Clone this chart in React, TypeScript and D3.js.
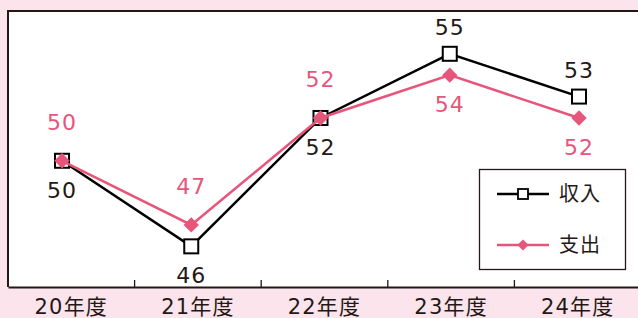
import React, { useEffect, useRef } from 'react';
import * as d3 from 'd3';

const categories = ['20年度', '21年度', '22年度', '23年度', '24年度'];
const incomeValues = [50, 46, 52, 55, 53];
const expenseValues = [50, 47, 52, 54, 52];
const incomeLabelPos = ['below', 'below', 'below', 'above', 'above'];
const expenseLabelPos = ['above', 'above', 'above', 'below', 'below'];
const seriesNames = ['収入', '支出'];

const PINK = '#e8557b';
const INK = '#231815';
const FONT = '"DejaVu Sans", "Noto Sans CJK JP", sans-serif';

const App = () => {
  const ref = useRef<SVGSVGElement | null>(null);

  useEffect(() => {
    document.body.style.margin = '0';
    const width = 638;
    const height = 318;
    const svg = d3.select(ref.current);
    svg.selectAll('*').remove();

    svg.append('rect').attr('width', width).attr('height', height).attr('fill', '#fbe4eb');

    const left = 8;
    const top = 11;
    const bottom = 287;

    // plot area
    svg.append('rect')
      .attr('x', left).attr('y', top)
      .attr('width', width - left + 10).attr('height', bottom - top)
      .attr('fill', '#fff');

    const xBand = d3.scaleBand().domain(categories).range([left, 641]);
    const x = d3.scalePoint().domain(categories).range([62, 579]);
    const y = d3.scaleLinear().domain([44.1, 57]).range([bottom, top]);

    // frame (left, top)
    svg.append('path')
      .attr('d', `M${left},${bottom}V${top}H${width + 2}`)
      .attr('fill', 'none').attr('stroke', INK).attr('stroke-width', 2);

    const xAxis = svg.append('g').attr('transform', `translate(0,${bottom})`)
      .call(d3.axisBottom(xBand).tickSize(0).tickPadding(12));
    xAxis.select('.domain').attr('stroke', INK).attr('stroke-width', 2);
    xAxis.selectAll('text')
      .attr('font-family', FONT).attr('font-size', 21)
      .attr('letter-spacing', 1.2).attr('fill', INK);

    // band separators pointing up
    svg.append('g').selectAll('line')
      .data(categories.slice(1))
      .join('line')
      .attr('x1', d => xBand(d)!).attr('x2', d => xBand(d)!)
      .attr('y1', bottom).attr('y2', bottom - 7)
      .attr('stroke', INK).attr('stroke-width', 1.3);

    const line = d3.line<number>()
      .x((_, i) => x(categories[i])!)
      .y(d => y(d));

    // income (black squares)
    svg.append('path').datum(incomeValues)
      .attr('d', line).attr('fill', 'none')
      .attr('stroke', '#000').attr('stroke-width', 2.5);
    svg.append('g').selectAll('rect')
      .data(incomeValues).join('rect')
      .attr('x', (_, i) => x(categories[i])! - 7)
      .attr('y', d => y(d) - 7)
      .attr('width', 14).attr('height', 14)
      .attr('fill', '#fff').attr('stroke', '#000').attr('stroke-width', 2);

    // expense (pink diamonds)
    svg.append('path').datum(expenseValues)
      .attr('d', line).attr('fill', 'none')
      .attr('stroke', PINK).attr('stroke-width', 2.5);
    const diamond = d3.symbol(d3.symbolDiamond2, 150);
    svg.append('g').selectAll('path')
      .data(expenseValues).join('path')
      .attr('d', diamond)
      .attr('transform', (d, i) => `translate(${x(categories[i])},${y(d)})`)
      .attr('fill', PINK);

    // value labels
    svg.append('g').selectAll('text')
      .data(incomeValues).join('text')
      .attr('x', (_, i) => x(categories[i])!)
      .attr('y', (d, i) => y(d) + (incomeLabelPos[i] === 'above' ? -19 : 37))
      .attr('text-anchor', 'middle')
      .attr('font-family', FONT).attr('font-size', 22).attr('letter-spacing', 1)
      .attr('fill', INK)
      .text(d => d);

    svg.append('g').selectAll('text')
      .data(expenseValues).join('text')
      .attr('x', (_, i) => x(categories[i])!)
      .attr('y', (d, i) => y(d) + (expenseLabelPos[i] === 'above' ? -31 : 37))
      .attr('text-anchor', 'middle')
      .attr('font-family', FONT).attr('font-size', 22).attr('letter-spacing', 1)
      .attr('fill', PINK)
      .text(d => d);

    // legend
    const lg = svg.append('g');
    lg.append('rect')
      .attr('x', 479.5).attr('y', 169.5).attr('width', 146).attr('height', 100)
      .attr('fill', '#fff').attr('stroke', INK).attr('stroke-width', 1.3);
    const rows = lg.selectAll('g').data(seriesNames).join('g')
      .attr('transform', (_, i) => `translate(0,${194 + i * 51})`);
    rows.append('line')
      .attr('x1', 497).attr('x2', 549).attr('y1', 0).attr('y2', 0)
      .attr('stroke', (_, i) => (i === 0 ? '#000' : PINK)).attr('stroke-width', 2.5);
    rows.filter((_, i) => i === 0).append('rect')
      .attr('x', 518).attr('y', -5).attr('width', 10).attr('height', 10)
      .attr('fill', '#fff').attr('stroke', '#000').attr('stroke-width', 1.8);
    rows.filter((_, i) => i === 1).append('path')
      .attr('d', d3.symbol(d3.symbolDiamond2, 80))
      .attr('transform', 'translate(523,0)')
      .attr('fill', PINK);
    rows.append('text')
      .attr('x', 559).attr('y', 0).attr('dy', '0.36em')
      .attr('font-family', FONT).attr('font-size', 20).attr('letter-spacing', 1)
      .attr('fill', INK)
      .text(d => d);
  }, []);

  return <svg ref={ref} width={638} height={318} style={{ display: 'block' }} />;
};

export default App;
